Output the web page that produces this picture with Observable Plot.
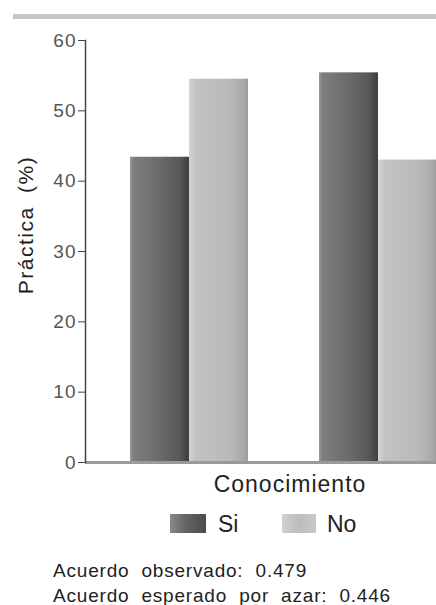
<!DOCTYPE html>
<html>
<head>
<meta charset="utf-8">
<script src="https://cdn.jsdelivr.net/npm/d3@7"></script>
<script src="https://cdn.jsdelivr.net/npm/@observablehq/plot@0.6"></script>
<style>
html, body { margin: 0; padding: 0; background: #fff; }
body { width: 436px; height: 605px; position: relative; overflow: hidden; font-family: "Liberation Sans", Arial, sans-serif; color: #222; }
#topbar { position: absolute; left: 13px; top: 14px; width: 423px; height: 5px; background: #c6c6c6; }
#chart { position: absolute; left: 0; top: 0; }
#chart svg text { letter-spacing: 1px; }
#ylabel { position: absolute; left: 25px; top: 225px; transform: translate(-50%, -50%) rotate(-90deg); font-size: 21px; line-height: 21px; letter-spacing: 1.5px; word-spacing: 6px; white-space: nowrap; color: #222; }
#legtitle { position: absolute; left: 290px; top: 473px; transform: translateX(-50%); font-size: 23px; line-height: 23px; letter-spacing: 1px; white-space: nowrap; color: #222; }
.sw { position: absolute; top: 514px; height: 19px; }
.swlab { position: absolute; top: 513px; font-size: 23px; line-height: 23px; color: #222; }
.note { position: absolute; left: 53px; font-size: 19px; line-height: 19px; letter-spacing: 0.8px; word-spacing: 6px; white-space: nowrap; color: #222; }
</style>
</head>
<body>
<svg width="0" height="0" style="position:absolute">
  <defs>
    <linearGradient id="gradSi" x1="0" x2="1" y1="0" y2="0">
      <stop offset="0" stop-color="#9a9a9a"/>
      <stop offset="0.06" stop-color="#7e7e7e"/>
      <stop offset="0.5" stop-color="#6b6b6b"/>
      <stop offset="0.85" stop-color="#575757"/>
      <stop offset="1" stop-color="#3e3e3e"/>
    </linearGradient>
    <linearGradient id="gradNo" x1="0" x2="1" y1="0" y2="0">
      <stop offset="0" stop-color="#d6d6d6"/>
      <stop offset="0.1" stop-color="#c3c3c3"/>
      <stop offset="0.7" stop-color="#b9b9b9"/>
      <stop offset="0.92" stop-color="#a9a9a9"/>
      <stop offset="1" stop-color="#9a9a9a"/>
    </linearGradient>
  </defs>
</svg>
<div id="topbar"></div>
<div id="chart"></div>
<div id="ylabel"></div>
<div id="legtitle"></div>
<div id="legend"></div>
<div id="notes"></div>
<script>
// ---- Data ----
const grupos = ["Grupo 1", "Grupo 2"];
const seriesConocimiento = ["Si", "No"];
const practicaSi = [43.4, 55.4];
const practicaNo = [54.5, 43.0];
const yTicks = [0, 10, 20, 30, 40, 50, 60];
const yLabel = "Práctica (%)";
const legendTitle = "Conocimiento";
const notas = ["Acuerdo observado: 0.479", "Acuerdo esperado por azar: 0.446"];
const fillsSerie = ["url(#gradSi)", "url(#gradNo)"];
const swatchFills = ["linear-gradient(to right, #8a8a8a, #666 40%, #4a4a4a)", "linear-gradient(to right, #d0d0d0, #bdbdbd 50%, #c9c9c9)"];

const datos = [];
grupos.forEach((g, i) => {
  datos.push({grupo: g, serie: "Si", valor: practicaSi[i]});
  datos.push({grupo: g, serie: "No", valor: practicaNo[i]});
});

const plot = Plot.plot({
  width: 436,
  height: 482,
  marginLeft: 85,
  marginRight: 0,
  marginTop: 40,
  marginBottom: 20,
  style: {fontFamily: "'Liberation Sans', Arial, sans-serif", fontSize: "19px", color: "#555", background: "transparent"},
  x: {domain: grupos, range: [85, 482], paddingInner: 0.3757, paddingOuter: 0.238, axis: null},
  y: {domain: [0, 60], axis: null},
  color: {domain: seriesConocimiento, range: fillsSerie},
  marks: [
    Plot.barY(datos.filter(d => d.serie === "Si"), {x: "grupo", y: "valor", fill: "serie", insetRight: 59}),
    Plot.barY(datos.filter(d => d.serie === "No"), {x: "grupo", y: "valor", fill: "serie", insetLeft: 59}),
    Plot.ruleY([0], {stroke: "#9a9a9a", strokeWidth: 3}),
    Plot.frame({anchor: "left", stroke: "#444", strokeWidth: 1.5}),
    Plot.axisY({ticks: yTicks, tickSize: 7, tickPadding: 2, stroke: "#444", fill: "#555", fontSize: 19, label: null})
  ]
});
document.getElementById("chart").appendChild(plot);

document.getElementById("ylabel").textContent = yLabel;
document.getElementById("legtitle").textContent = legendTitle;

const legend = document.getElementById("legend");
const swX = [170, 282];
const swW = [36, 34];
const labX = [218, 327];
seriesConocimiento.forEach((s, i) => {
  const sw = document.createElement("div");
  sw.className = "sw";
  sw.style.left = swX[i] + "px";
  sw.style.width = swW[i] + "px";
  sw.style.background = swatchFills[i];
  legend.appendChild(sw);
  const lab = document.createElement("div");
  lab.className = "swlab";
  lab.style.left = labX[i] + "px";
  lab.textContent = s;
  legend.appendChild(lab);
});

const notesEl = document.getElementById("notes");
const noteTops = [561, 586];
notas.forEach((t, i) => {
  const d = document.createElement("div");
  d.className = "note";
  d.style.top = noteTops[i] + "px";
  d.textContent = t;
  notesEl.appendChild(d);
});
</script>
</body>
</html>
